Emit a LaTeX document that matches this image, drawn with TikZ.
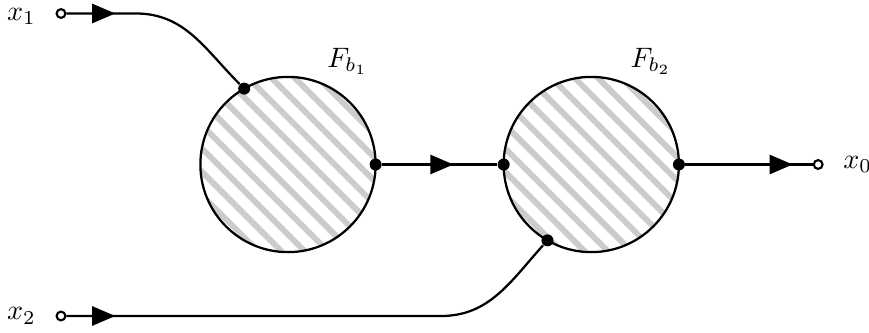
\documentclass[tikz,border=0pt]{standalone}
\usepackage{tikz}
\usetikzlibrary{positioning, arrows.meta, decorations.markings}
\definecolor{hatchgray}{RGB}{204,204,204}
\tikzset{
  block/.style={circle, draw, line width=0.8pt, minimum size=2.19cm, inner sep=0pt, outer sep=0pt,
    path picture={\foreach \k in {-10,...,10}
      \draw[hatchgray, line width=2.1pt] (path picture bounding box.center) ++(\k*11.67,\k*11.67) ++(-150,150) -- ++(300,-300);}},
  port/.style={circle, draw, fill=white, line width=0.75pt, minimum size=1.1mm, inner sep=0pt},
  joint/.style={circle, fill=black, minimum size=1.5mm, inner sep=0pt},
  lbl/.style={inner sep=0pt},
  wire/.style={line width=0.8pt},
  sig/.style={wire, postaction={decorate},
    decoration={markings, mark=at position #1 with {\arrow{Triangle[length=8.2pt, width=6.8pt]}}}},
}
\begin{document}
\begin{tikzpicture}[x=0.0125cm, y=0.0125cm, node distance=1.6cm]
  \useasboundingbox (0,0) rectangle (869,-333);
  % the two blocks
  \node[block] (F1) at (288,-164.5) {};
  \node[block, right=of F1] (F2) {};
  \node[joint] (d1) at (F1.120) {};
  \node[joint] (d2) at (F1.east) {};
  \node[joint] (d3) at (F2.west) {};
  \node[joint] (d4) at (F2.240) {};
  \node[joint] (d5) at (F2.east) {};
  % ports
  \node[port] (in1) at (61,-13.5) {};
  \node[port] (in2) at (61,-316) {};
  \node[port, right=1.59cm of d5] (out) {};
  \node[lbl, left=0.24cm of in1, yshift=-1] (x1) {$x_1$};
  \node[lbl, left=0.24cm of in2] (x2) {$x_2$};
  \node[lbl, right=0.24cm of out] (x0) {$x_0$};
  \node[lbl, anchor=south west] (fb1) at ([shift={(-5,14)}]F1.60) {$F_{b_1}$};
  \node[lbl, anchor=south west] (fb2) at ([shift={(-5,14)}]F2.60) {$F_{b_2}$};
  % signals
  \draw[sig=0.61cm] (in1) -- ++(75,0) to[out=0, in=135] (d1);
  \draw[sig=0.61cm] (in2) -- ++(380,0) to[out=0, in=228] (d4);
  \draw[sig=0.89cm] (d2) -- (d3);
  \draw[sig=1.34cm] (d5) -- (out);
\end{tikzpicture}
\end{document}
